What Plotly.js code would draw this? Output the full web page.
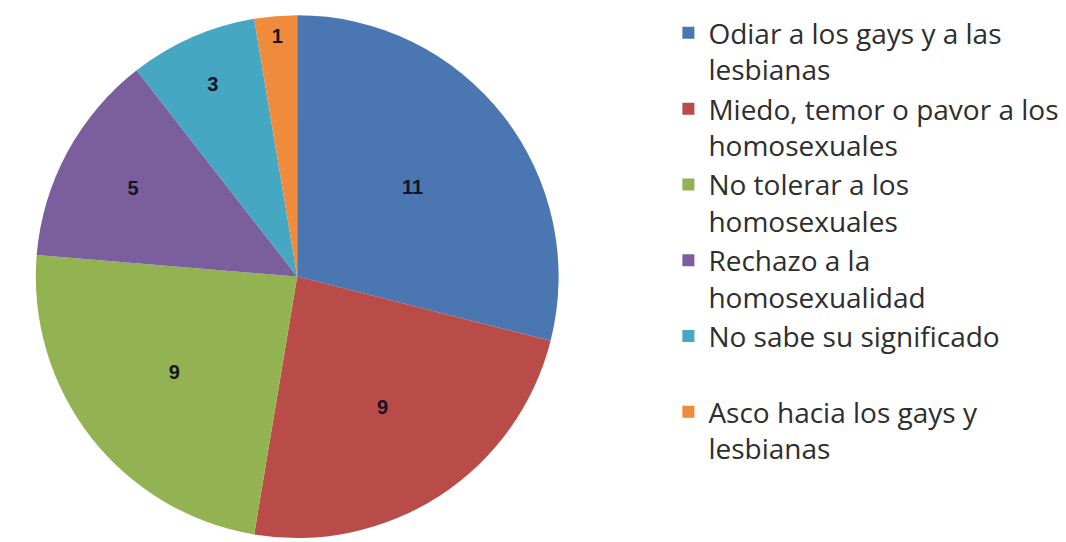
<!DOCTYPE html>
<html>
<head>
<meta charset="utf-8">
<script src="https://cdn.plot.ly/plotly-3.0.1.min.js"></script>
<style>html,body{margin:0;padding:0;background:#fff;}#chart{width:1066px;height:542px;}</style>
</head>
<body>
<div id="chart"></div>
<script>
var categories = [
  "Odiar a los gays y a las<br>lesbianas",
  "Miedo, temor o pavor a los<br>homosexuales",
  "No tolerar a los<br>homosexuales",
  "Rechazo a la<br>homosexualidad",
  "No sabe su significado<br> ",
  "Asco hacia los gays y<br>lesbianas"
];
var values = [11, 9, 9, 5, 3, 1];
var colors = ["#4a77b1", "#b94b49", "#93b252", "#7b5e9e", "#46a7c2", "#f08b3c"];

var trace = {
  type: "pie",
  labels: categories,
  values: values,
  sort: false,
  direction: "clockwise",
  rotation: 0,
  marker: {colors: colors, line: {width: 0}},
  textinfo: "value",
  textposition: "inside",
  insidetextorientation: "horizontal",
  textfont: {family: "Liberation Sans, Arial, sans-serif", size: 20, color: "#151525", weight: "bold"},
  domain: {x: [0.0066, 0.551], y: [0.0074, 0.972]},
  hoverinfo: "label+value"
};

var layout = {
  width: 1066,
  height: 542,
  margin: {l: 0, r: 0, t: 0, b: 0},
  paper_bgcolor: "#ffffff",
  showlegend: true,
  legend: {
    x: 0.627, xanchor: "left",
    y: 0.985, yanchor: "top",
    valign: "top",
    font: {family: "Open Sans, sans-serif", size: 28, color: "#2e2e2e"},
    traceorder: "normal",
    bgcolor: "rgba(0,0,0,0)"
  }
};

Plotly.newPlot("chart", [trace], layout, {displayModeBar: false, staticPlot: true});
</script>
</body>
</html>
